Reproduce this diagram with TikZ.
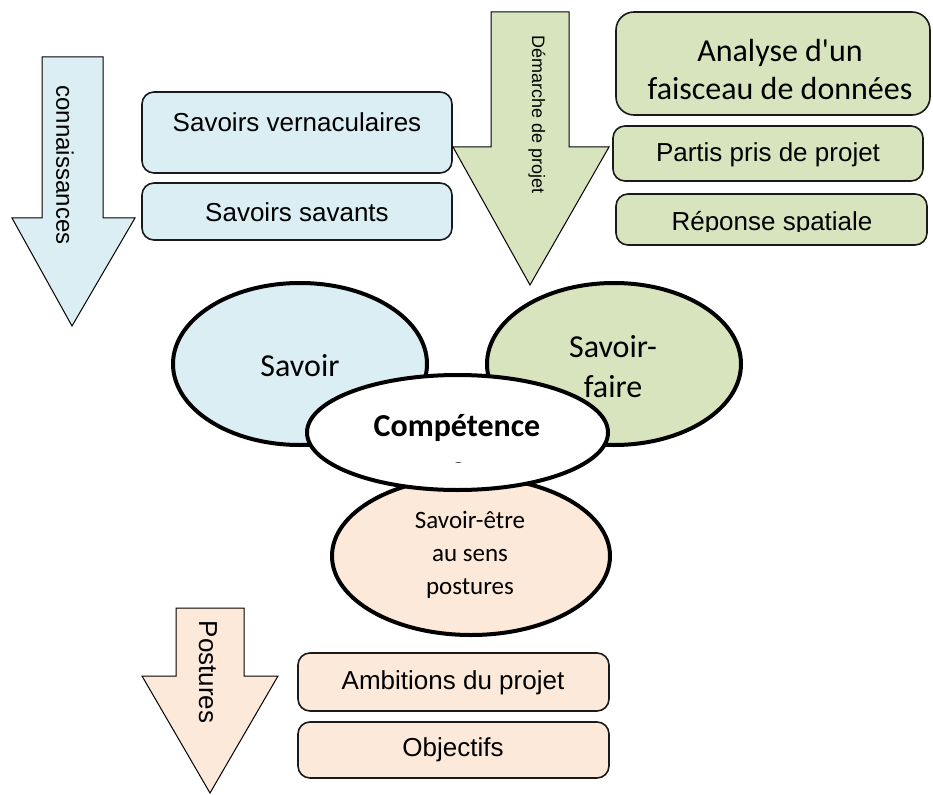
\documentclass[tikz,border=0pt]{standalone}
\usepackage{fontspec}
\setmainfont{Liberation Sans}
\newfontfamily\calfont{Carlito}
\definecolor{blueF}{HTML}{DAEEF3}
\definecolor{greenF}{HTML}{D7E4BD}
\definecolor{peachF}{HTML}{FDE9D9}
\definecolor{edge}{HTML}{1A1A1A}
\tikzset{
  blockarrow/.style={draw=black, line width=1pt, line join=miter},
  boxstyle/.style={draw=edge, line width=1.6pt, rounded corners=12pt, inner sep=0pt},
  ellstyle/.style={draw=black, line width=4pt, ellipse, inner sep=0pt},
  boxtext/.style={font=\fontsize{26}{31}\selectfont, inner sep=0pt},
  caltext/.style={font=\calfont\fontsize{32}{40}\selectfont, align=center, inner sep=0pt},
}
\usetikzlibrary{shapes.geometric}
\begin{document}
\begin{tikzpicture}[x=1pt,y=-1pt]
\useasboundingbox (0,0) rectangle (933,794);
% connaissances arrow
\draw[blockarrow, fill=blueF] (42,57) -- (103,57) -- (103,218) -- (135,218) -- (72,326) -- (12,218) -- (42,218) -- cycle;
\node[rotate=-90, font=\fontsize{24}{29}\selectfont, inner sep=0pt] (con) at (65,165) {connaissances};
% blue boxes
\node[boxstyle, fill=blueF, minimum width=310pt, minimum height=81pt] (sv) at (297,132.5) {};
\node[boxtext] (svt) at (297,122) {Savoirs vernaculaires};
\node[boxstyle, fill=blueF, minimum width=310pt, minimum height=57pt] (ss) at (297,211.5) {};
\node[boxtext] (sst) at (297,212) {Savoirs savants};
% demarche arrow
\draw[blockarrow, fill=greenF] (491,12) -- (569,12) -- (569,147) -- (609,147) -- (530,285) -- (453,147) -- (491,147) -- cycle;
\node[rotate=-90, font=\fontsize{18}{22}\selectfont, inner sep=0pt] (dem) at (537,115) {Démarche de projet};
% green boxes
\node[boxstyle, fill=greenF, rounded corners=18pt, minimum width=314pt, minimum height=103pt] (an) at (773,63.5) {};
\node[caltext, font=\calfont\fontsize{32}{38}\selectfont] (ant) at (780,70) {Analyse d'un\\faisceau de données};
\node[boxstyle, fill=greenF, minimum width=310pt, minimum height=55pt] (pp) at (768,153.5) {};
\node[boxtext] (ppt) at (768,155) {Partis pris de projet};
\node[boxstyle, fill=greenF, minimum width=311pt, minimum height=51pt] (rs) at (771.5,219.5) {};
\begin{scope}
\clip (600,190) rectangle (933,231);
\node[boxtext] (rst) at (772,224) {Réponse spatiale};
\end{scope}
% ellipses
\node[ellstyle, fill=blueF, minimum width=254pt, minimum height=162pt] (sav) at (300,364) {};
\node[caltext] (savt) at (300,366) {Savoir};
\node[ellstyle, fill=greenF, minimum width=254pt, minimum height=162pt] (sf) at (614,364) {};
\node[caltext] (sft) at (613,367) {Savoir-\\faire};
\node[ellstyle, fill=peachF, minimum width=278pt, minimum height=158pt] (se) at (471,556) {};
\node[caltext, font=\calfont\fontsize{25}{33}\selectfont] (set) at (470,555) {Savoir-être\\au sens\\postures};
\node[ellstyle, fill=white, minimum width=301pt, minimum height=115pt] (comp) at (457.5,432.5) {};
\node[caltext, font=\calfont\bfseries\fontsize{32}{40}\selectfont] (compt) at (457,428) {Compétence};
\begin{scope}
\clip (400,440) rectangle (520,462.5);
\node[caltext, font=\calfont\bfseries\fontsize{32}{40}\selectfont, anchor=base] (comps) at (458,478) {s};
\end{scope}
% postures arrow
\draw[blockarrow, fill=peachF] (176,608) -- (244,608) -- (244,676) -- (278,676) -- (210,793) -- (142,676) -- (176,676) -- cycle;
\node[rotate=-90, font=\fontsize{26}{31}\selectfont, inner sep=0pt] (pos) at (208,672) {Postures};
% peach boxes
\node[boxstyle, fill=peachF, minimum width=311pt, minimum height=58pt] (amb) at (453.5,682) {};
\node[boxtext] (ambt) at (453,683) {Ambitions du projet};
\node[boxstyle, fill=peachF, minimum width=311pt, minimum height=56pt] (obj) at (453.5,750) {};
\node[boxtext] (objt) at (453,750) {Objectifs};
\end{tikzpicture}
\end{document}
